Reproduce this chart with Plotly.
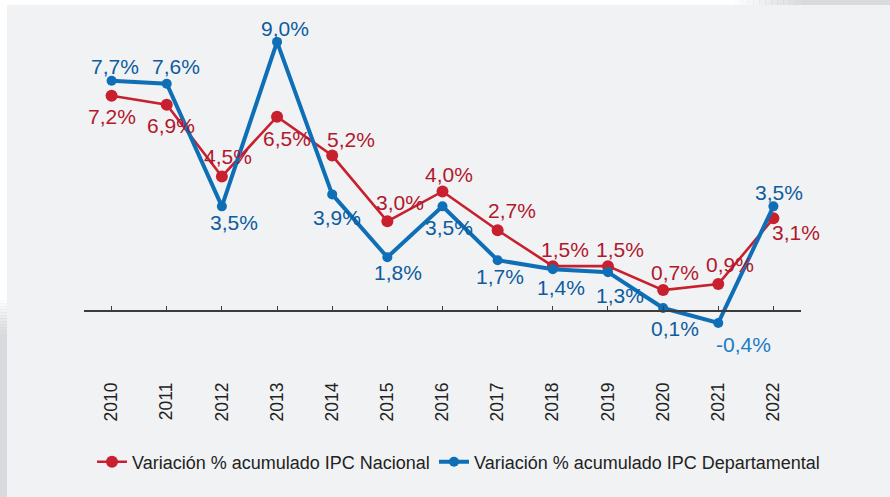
import plotly.graph_objects as go

# Data
years = [str(y) for y in range(2010, 2023)]
ipc_nacional = [7.2, 6.9, 4.5, 6.5, 5.2, 3.0, 4.0, 2.7, 1.5, 1.5, 0.7, 0.9, 3.1]
ipc_departamental = [7.7, 7.6, 3.5, 9.0, 3.9, 1.8, 3.5, 1.7, 1.4, 1.3, 0.1, -0.4, 3.5]
name_nacional = "Variación % acumulado IPC Nacional"
name_departamental = "Variación % acumulado IPC Departamental"

# Label offsets (pixels) for the value annotations
off_nacional = [(0, 21), (4, 21), (6, -20), (10, 22), (19, -16), (13, -19), (6, -17),
                (14, -20), (12, -17), (12, -17), (12, -18), (12, -20), (23, 14)]
off_departamental = [(3, -14), (9, -17), (12, 16), (8, -13), (5, 23), (11, 15), (6, 21),
                     (2, 16), (8, 18), (12, 23), (12, 20), (25, 22), (6, -14)]

RED = "#c8202f"
RED_TXT = "#b2182c"
BLUE = "#0e6fb7"
BLUE_TXT = "#0d5c9e"
FONT = "Liberation Sans, Arial, sans-serif"

W, H = 890, 497
ML, MR, MT, MB = 84, 89, 15, 119
PW, PH = W - ML - MR, H - MT - MB
Y_RANGE = [-2.24, 9.90]


def fmt(v):
    return f"{v:.1f}".replace(".", ",") + "%"


def px_x(p):
    return (p - ML) / PW


def px_y(p):
    return (H - MB - p) / PH


fig = go.Figure()
fig.add_trace(go.Scatter(
    x=years, y=ipc_nacional, name=name_nacional, mode="lines+markers",
    line=dict(color=RED, width=2.6), marker=dict(color=RED, size=12),
    hoverinfo="x+y", legend="legend"))
fig.add_trace(go.Scatter(
    x=years, y=ipc_departamental, name=name_departamental, mode="lines+markers",
    line=dict(color=BLUE, width=4), marker=dict(color=BLUE, size=10),
    hoverinfo="x+y", legend="legend2"))
# carrier trace for the zero baseline axis
fig.add_trace(go.Scatter(x=years, y=[None] * len(years), xaxis="x2", mode="lines",
                         showlegend=False, hoverinfo="skip"))

annotations = []
for i, (v, (dx, dy)) in enumerate(zip(ipc_nacional, off_nacional)):
    annotations.append(dict(x=i, y=v, xref="x", yref="y", text=fmt(v), showarrow=False,
                            xshift=dx, yshift=-dy,
                            font=dict(family=FONT, size=21, color=RED_TXT)))
for i, (v, (dx, dy)) in enumerate(zip(ipc_departamental, off_departamental)):
    col = "#1b7cc6" if v < 0 else BLUE_TXT
    annotations.append(dict(x=i, y=v, xref="x", yref="y", text=fmt(v), showarrow=False,
                            xshift=dx, yshift=-dy,
                            font=dict(family=FONT, size=21, color=col)))

# outer frame: white border strips with soft grey shading
shapes = [
    dict(type="rect", xref="paper", yref="paper", x0=px_x(0), x1=px_x(W),
         y0=px_y(5), y1=px_y(0), fillcolor="white", line_width=0, layer="below"),
    dict(type="rect", xref="paper", yref="paper", x0=px_x(0), x1=px_x(7),
         y0=px_y(H), y1=px_y(0), fillcolor="white", line_width=0, layer="below"),
]
steps = 12
for i in range(steps):
    a = (i + 1) / steps
    shapes.append(dict(type="rect", xref="paper", yref="paper",
                       x0=px_x(735 + i * 6), x1=px_x(735 + (i + 1) * 6 + 1),
                       y0=px_y(5), y1=px_y(0), fillcolor="#d9dadd",
                       opacity=a, line_width=0, layer="below"))
    shapes.append(dict(type="rect", xref="paper", yref="paper",
                       x0=px_x(0), x1=px_x(7),
                       y0=px_y(300 + (i + 1) * 3 + 1), y1=px_y(300 + i * 3),
                       fillcolor="#d9dadd", opacity=a, line_width=0, layer="below"))
shapes.append(dict(type="rect", xref="paper", yref="paper", x0=px_x(807), x1=px_x(W),
                   y0=px_y(5), y1=px_y(0), fillcolor="#d9dadd", line_width=0, layer="below"))
shapes.append(dict(type="rect", xref="paper", yref="paper", x0=px_x(0), x1=px_x(7),
                   y0=px_y(H), y1=px_y(337), fillcolor="#d9dadd", line_width=0, layer="below"))

zero_pos = (0 - Y_RANGE[0]) / (Y_RANGE[1] - Y_RANGE[0])

legend_style = dict(orientation="h", xanchor="left", yanchor="middle", y=px_y(462),
                    font=dict(family=FONT, size=18, color="#222222"),
                    bgcolor="rgba(0,0,0,0)", borderwidth=0, itemclick=False)

fig.update_layout(
    width=W, height=H,
    margin=dict(l=ML, r=MR, t=MT, b=MB, pad=0),
    paper_bgcolor="#f1f2f4", plot_bgcolor="rgba(0,0,0,0)",
    font=dict(family=FONT, color="#222222"),
    showlegend=True,
    legend=dict(x=px_x(92), **legend_style),
    legend2=dict(x=px_x(434), **legend_style),
    xaxis=dict(type="category", range=[-0.5, 12.5], showgrid=False, zeroline=False,
               showline=False, ticks="", tickangle=-90,
               tickfont=dict(family=FONT, size=17.5, color="#222222")),
    xaxis2=dict(type="category", overlaying="x", anchor="free", position=zero_pos,
                range=[-0.5, 12.5], showgrid=False, zeroline=False, showline=True,
                linecolor="#3c3c3c", linewidth=1.5, ticks="inside", ticklen=4,
                tickwidth=1.3, tickcolor="#3c3c3c", showticklabels=False),
    yaxis=dict(range=Y_RANGE, showticklabels=False, ticks="", showline=False,
               showgrid=False, zeroline=False),
    annotations=annotations,
    shapes=shapes,
    hovermode="closest",
)

fig.write_html("out.html")
